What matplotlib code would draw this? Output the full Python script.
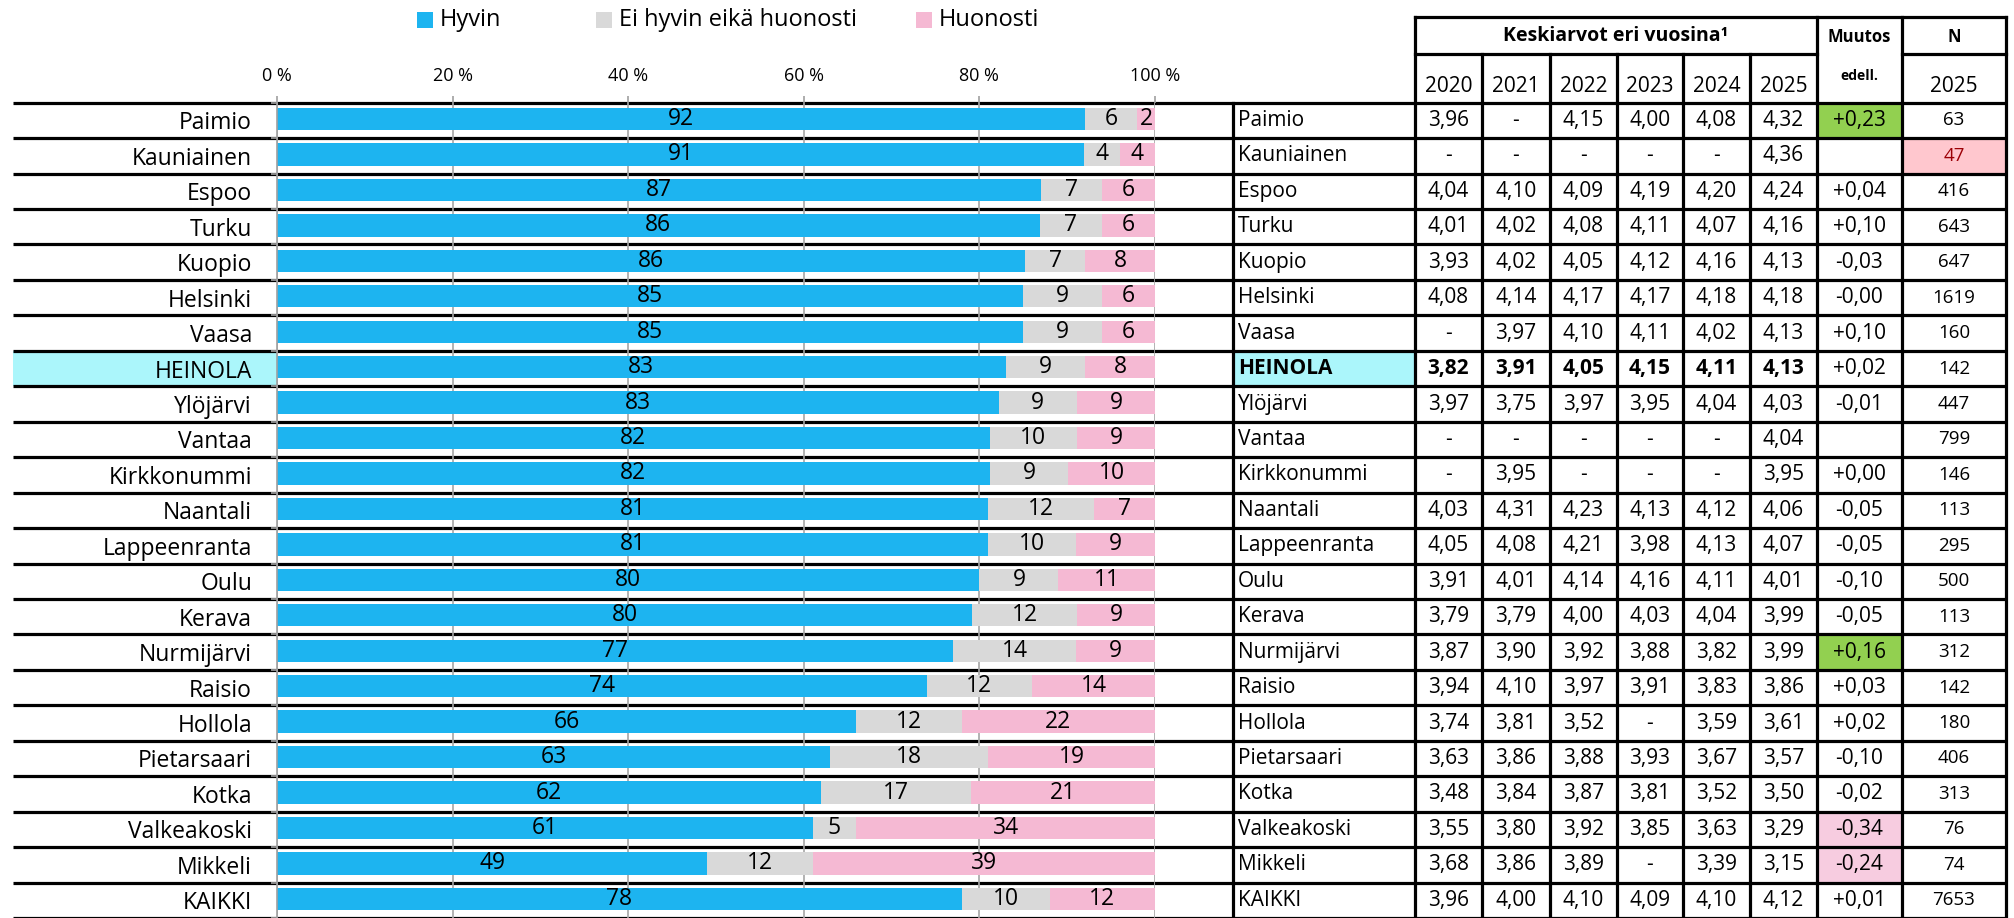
import numpy as np
import matplotlib
matplotlib.use('Agg')
import matplotlib.pyplot as plt
from matplotlib.patches import Rectangle

plt.rcParams['font.family'] = ['Open Sans', 'DejaVu Sans']

# --- data ---
categories = ['Paimio', 'Kauniainen', 'Espoo', 'Turku', 'Kuopio', 'Helsinki', 'Vaasa',
              'HEINOLA', 'Ylöjärvi', 'Vantaa', 'Kirkkonummi', 'Naantali', 'Lappeenranta',
              'Oulu', 'Kerava', 'Nurmijärvi', 'Raisio', 'Hollola', 'Pietarsaari', 'Kotka',
              'Valkeakoski', 'Mikkeli', 'KAIKKI']
hyvin = [92, 91, 87, 86, 86, 85, 85, 83, 83, 82, 82, 81, 81, 80, 80, 77, 74, 66, 63, 62, 61, 49, 78]
neutral = [6, 4, 7, 7, 7, 9, 9, 9, 9, 10, 9, 12, 10, 9, 12, 14, 12, 12, 18, 17, 5, 12, 10]
huonosti = [2, 4, 6, 6, 8, 6, 6, 8, 9, 9, 10, 7, 9, 11, 9, 9, 14, 22, 19, 21, 34, 39, 12]
series_names = ['Hyvin', 'Ei hyvin eikä huonosti', 'Huonosti']
series_colors = ['#1DB4F0', '#D9D9D9', '#F5B9D3']
x_ticks = [0, 20, 40, 60, 80, 100]

years = ['2020', '2021', '2022', '2023', '2024', '2025']
avg_2020 = [3.96, None, 4.04, 4.01, 3.93, 4.08, None, 3.82, 3.97, None, None, 4.03, 4.05,
            3.91, 3.79, 3.87, 3.94, 3.74, 3.63, 3.48, 3.55, 3.68, 3.96]
avg_2021 = [None, None, 4.10, 4.02, 4.02, 4.14, 3.97, 3.91, 3.75, None, 3.95, 4.31, 4.08,
            4.01, 3.79, 3.90, 4.10, 3.81, 3.86, 3.84, 3.80, 3.86, 4.00]
avg_2022 = [4.15, None, 4.09, 4.08, 4.05, 4.17, 4.10, 4.05, 3.97, None, None, 4.23, 4.21,
            4.14, 4.00, 3.92, 3.97, 3.52, 3.88, 3.87, 3.92, 3.89, 4.10]
avg_2023 = [4.00, None, 4.19, 4.11, 4.12, 4.17, 4.11, 4.15, 3.95, None, None, 4.13, 3.98,
            4.16, 4.03, 3.88, 3.91, None, 3.93, 3.81, 3.85, None, 4.09]
avg_2024 = [4.08, None, 4.20, 4.07, 4.16, 4.18, 4.02, 4.11, 4.04, None, None, 4.12, 4.13,
            4.11, 4.04, 3.82, 3.83, 3.59, 3.67, 3.52, 3.63, 3.39, 4.10]
avg_2025 = [4.32, 4.36, 4.24, 4.16, 4.13, 4.18, 4.13, 4.13, 4.03, 4.04, 3.95, 4.06, 4.07,
            4.01, 3.99, 3.99, 3.86, 3.61, 3.57, 3.50, 3.29, 3.15, 4.12]
change = [0.23, None, 0.04, 0.10, -0.03, -0.0, 0.10, 0.02, -0.01, None, 0.00, -0.05, -0.05,
          -0.10, -0.05, 0.16, 0.03, 0.02, -0.10, -0.02, -0.34, -0.24, 0.01]
n_2025 = [63, 47, 416, 643, 647, 1619, 160, 142, 447, 799, 146, 113, 295, 500, 113, 312,
          142, 180, 406, 313, 76, 74, 7653]
highlight = 'HEINOLA'

# --- layout (pixels) ---
W, H = 2015, 918
ROW_TOP = 102.7
PITCH = (H - ROW_TOP) / len(categories)
X0, X1 = 277, 1155
LINE_L, LINE_R = 13, 2006
NAME_L = 1233
col_edges = [1415, 1482, 1550, 1617, 1683, 1750, 1817, 1902, 2006]
HEAD_TOP, HEAD_MID = 17, 54
LW = 2.3

fig = plt.figure(figsize=(W / 100, H / 100), dpi=100)
bg = fig.add_axes([0, 0, 1, 1])
bg.set_xlim(0, W)
bg.set_ylim(H, 0)
bg.axis('off')

ax = fig.add_axes([X0 / W, 0, (X1 - X0) / W, (H - ROW_TOP) / H])
ax.patch.set_alpha(0)

n = len(categories)
y = np.arange(n)
totals = np.array(hyvin) + np.array(neutral) + np.array(huonosti)
left = np.zeros(n)
for vals, name, color in zip([hyvin, neutral, huonosti], series_names, series_colors):
    w = np.array(vals) / totals * 100
    bars = ax.barh(y - 0.04, w, left=left, height=0.63, color=color, label=name)
    ax.bar_label(bars, labels=[str(v) for v in vals], label_type='center', fontsize=16.5)
    left += w

ax.set_xlim(0, 100)
ax.set_ylim(n - 0.5, -0.5)
ax.set_axisbelow(True)
ax.xaxis.tick_top()
ax.set_xticks(x_ticks)
ax.set_xticklabels([f'{t} %' for t in x_ticks], fontsize=13)
ax.tick_params(axis='x', length=5, width=1.2, color='#a0a0a0', pad=8)
ax.xaxis.grid(True, color='#a6a6a6', lw=1.2)
ax.set_yticks(y)
ax.set_yticklabels(categories, fontsize=16.5)
ax.tick_params(axis='y', length=0, pad=18)
ax.set_yticks(np.arange(-0.5, n), minor=True)
ax.tick_params(axis='y', which='minor', length=4, width=1.2, color='#a0a0a0')
for s in ['top', 'right', 'bottom']:
    ax.spines[s].set_visible(False)
ax.spines['left'].set_color('#a0a0a0')
ax.spines['left'].set_linewidth(1.2)

# highlight row
hi = categories.index(highlight)
bg.add_patch(Rectangle((LINE_L, ROW_TOP + hi * PITCH), X0 - LINE_L, PITCH, color='#ABF6FB', lw=0))
bg.add_patch(Rectangle((NAME_L, ROW_TOP + hi * PITCH), col_edges[0] - NAME_L, PITCH, color='#ABF6FB', lw=0))

# legend
leg_x = [417, 596, 916]
for lx, name, color in zip(leg_x, series_names, series_colors):
    bg.add_patch(Rectangle((lx, 12), 16, 16, color=color, lw=0))
    bg.text(lx + 23, 20, name, fontsize=17, va='center', ha='left')

# table cells colours
for i in range(n):
    top = ROW_TOP + i * PITCH
    c = change[i]
    if c is not None and c >= 0.15:
        bg.add_patch(Rectangle((col_edges[6], top), col_edges[7] - col_edges[6], PITCH, color='#92D050', lw=0))
    elif c is not None and c <= -0.15:
        bg.add_patch(Rectangle((col_edges[6], top), col_edges[7] - col_edges[6], PITCH, color='#F7CCE0', lw=0))
    if n_2025[i] < 50:
        bg.add_patch(Rectangle((col_edges[7], top), col_edges[8] - col_edges[7], PITCH, color='#FFC7CE', lw=0))

# lines
for k in range(n + 1):
    yk = ROW_TOP + k * PITCH
    bg.plot([LINE_L, LINE_R], [yk, yk], color='black', lw=LW, solid_capstyle='butt')
bg.plot([col_edges[0], LINE_R], [HEAD_TOP, HEAD_TOP], color='black', lw=LW, solid_capstyle='projecting')
bg.plot([col_edges[0], col_edges[6]], [HEAD_MID, HEAD_MID], color='black', lw=LW)
bg.plot([col_edges[7], col_edges[8]], [HEAD_MID, HEAD_MID], color='black', lw=LW)
bg.plot([NAME_L, NAME_L], [ROW_TOP, H], color='black', lw=LW)
for j, xe in enumerate(col_edges):
    y_start = HEAD_MID if 0 < j < 6 else HEAD_TOP
    bg.plot([xe, xe], [y_start, H], color='black', lw=LW)

# header text
bg.text((col_edges[0] + col_edges[6]) / 2, 36, 'Keskiarvot eri vuosina¹', fontsize=14,
        fontweight='bold', ha='center', va='center')
bg.text((col_edges[6] + col_edges[7]) / 2, 37, 'Muutos', fontsize=12, fontweight='bold',
        ha='center', va='center')
bg.text((col_edges[6] + col_edges[7]) / 2, 76, 'edell.', fontsize=10, fontweight='bold',
        ha='center', va='center')
bg.text((col_edges[7] + col_edges[8]) / 2, 37, 'N', fontsize=12, fontweight='bold',
        ha='center', va='center')
bg.text((col_edges[7] + col_edges[8]) / 2, 86, '2025', fontsize=15, ha='center', va='center')
for j, yr in enumerate(years):
    bg.text((col_edges[j] + col_edges[j + 1]) / 2, 86, yr, fontsize=15, ha='center', va='center')


def fmt(v):
    return '-' if v is None else f'{v:.2f}'.replace('.', ',')


avg_cols = [avg_2020, avg_2021, avg_2022, avg_2023, avg_2024, avg_2025]
for i, name in enumerate(categories):
    yc = ROW_TOP + (i + 0.5) * PITCH
    bold = 'bold' if name == highlight else 'normal'
    bg.text(NAME_L + 5, yc, name, fontsize=15, fontweight=bold, ha='left', va='center')
    for j, col in enumerate(avg_cols):
        bg.text((col_edges[j] + col_edges[j + 1]) / 2, yc, fmt(col[i]), fontsize=15,
                fontweight=bold, ha='center', va='center')
    c = change[i]
    if c is not None:
        bg.text((col_edges[6] + col_edges[7]) / 2, yc, f'{c:+.2f}'.replace('.', ','),
                fontsize=15, ha='center', va='center')
    n_color = '#9C0006' if n_2025[i] < 50 else 'black'
    bg.text((col_edges[7] + col_edges[8]) / 2, yc, str(n_2025[i]), fontsize=13.5,
            color=n_color, ha='center', va='center')

fig.savefig('out.png', dpi=100)
